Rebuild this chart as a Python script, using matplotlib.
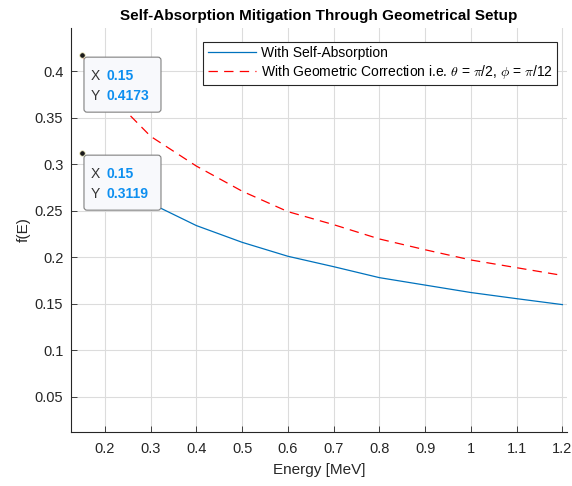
import matplotlib.pyplot as plt
import matplotlib.transforms as mtransforms
from matplotlib.patches import FancyBboxPatch

plt.rcParams['font.family'] = ['Liberation Sans', 'DejaVu Sans']
plt.rcParams['mathtext.fontset'] = 'cm'

energy = [0.15, 0.2, 0.3, 0.4, 0.5, 0.6, 0.7, 0.8, 0.9, 1.0, 1.1, 1.2]
f_self = [0.3119, 0.287, 0.258, 0.234, 0.216, 0.201, 0.1898, 0.178, 0.170, 0.162, 0.1554, 0.149]
f_geom = [0.4173, 0.380, 0.330, 0.298, 0.271, 0.249, 0.235, 0.2196, 0.208, 0.197, 0.1887, 0.1804]
xticks = [0.2, 0.3, 0.4, 0.5, 0.6, 0.7, 0.8, 0.9, 1.0, 1.1, 1.2]
xticklabels = ['0.2', '0.3', '0.4', '0.5', '0.6', '0.7', '0.8', '0.9', '1', '1.1', '1.2']
yticks = [0.05, 0.1, 0.15, 0.2, 0.25, 0.3, 0.35, 0.4]
yticklabels = ['0.05', '0.1', '0.15', '0.2', '0.25', '0.3', '0.35', '0.4']
tips = [(0.15, 0.4173), (0.15, 0.3119)]

fig = plt.figure(figsize=(5.72, 4.86), dpi=100)
ax = fig.add_axes([71 / 572, 1 - 432 / 486, (567 - 71) / 572, (432 - 28) / 486])

ax.plot(energy, f_self, color='#0072BD', lw=0.9, label='With Self-Absorption')
ax.plot(energy, f_geom, color='#FF0000', lw=0.9, dashes=(7.5, 5),
        label=r'With Geometric Correction i.e. $\theta$ = $\pi$/2, $\phi$ = $\pi$/12')

ax.set_xlim(0.126, 1.21)
ax.set_ylim(0.012, 0.4465)
ax.set_xticks(xticks)
ax.set_xticklabels(xticklabels)
ax.set_yticks(yticks)
ax.set_yticklabels(yticklabels)
ax.grid(True, color='#dcdcdc', lw=0.8)
ax.set_axisbelow(True)
ax.tick_params(direction='in', length=4, colors='#262626', labelsize=10.5, width=0.6)
ax.tick_params(axis='x', pad=7)
ax.tick_params(axis='y', pad=5.5)
for s in ['top', 'right']:
    ax.spines[s].set_visible(False)
for s in ['left', 'bottom']:
    ax.spines[s].set_color('#262626')
    ax.spines[s].set_linewidth(0.8)

ax.set_xlabel('Energy [MeV]', fontsize=11, color='#262626', labelpad=5.5)
ax.set_ylabel('f(E)', fontsize=11, color='#262626', labelpad=3)
ax.set_title('Self-Absorption Mitigation Through Geometrical Setup',
             fontsize=11, fontweight='bold', pad=5.5)

leg = ax.legend(loc='upper right', bbox_to_anchor=(0.98, 0.965), borderaxespad=0,
                fontsize=10, fancybox=False, framealpha=1, edgecolor='#262626',
                borderpad=0.3, labelspacing=0.2, handlelength=3.5, handletextpad=0.35)
leg.get_frame().set_linewidth(0.8)


def offset(dx, dy):
    # shift (dx, dy) pixels away from a data point
    return ax.transData + mtransforms.ScaledTranslation(dx / 100, dy / 100, fig.dpi_scale_trans)


# data tips
for tx, ty in tips:
    ax.plot([tx], [ty], 'o', ms=4, color='#1a1a1a', mec='#f5f0c8', mew=0.6,
            clip_on=False, zorder=6)
    box = FancyBboxPatch((2 / 100, -57 / 100), 77 / 100, 55 / 100,
                         boxstyle='round,pad=0,rounding_size=0.03',
                         transform=fig.dpi_scale_trans +
                         mtransforms.ScaledTranslation(tx, ty, ax.transData),
                         fc='#f8f9fc', ec='#808080', lw=0.8, zorder=5, clip_on=False)
    ax.add_patch(box)
    ax.text(tx, ty, 'X', transform=offset(9, -21), fontsize=10, color='#333333',
            va='center', ha='left', zorder=7, clip_on=False)
    ax.text(tx, ty, f'{tx:g}', transform=offset(25, -21), fontsize=10,
            color='#0d8ff0', fontweight='bold', va='center', ha='left', zorder=7, clip_on=False)
    ax.text(tx, ty, 'Y', transform=offset(9, -41), fontsize=10, color='#333333',
            va='center', ha='left', zorder=7, clip_on=False)
    ax.text(tx, ty, f'{ty:.4f}', transform=offset(25, -41), fontsize=10,
            color='#0d8ff0', fontweight='bold', va='center', ha='left', zorder=7, clip_on=False)

fig.savefig('out.png', dpi=100)
